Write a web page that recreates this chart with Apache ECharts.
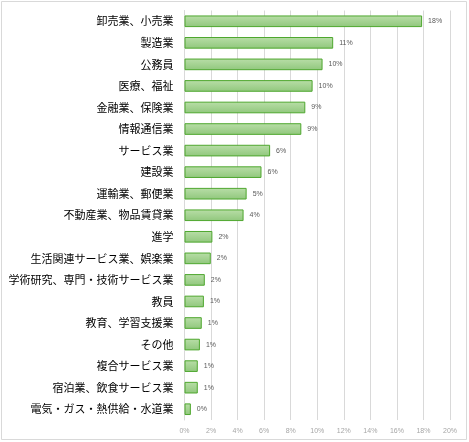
<!DOCTYPE html>
<html><head><meta charset="utf-8">
<script src="https://cdn.jsdelivr.net/npm/echarts@6/dist/echarts.min.js"></script>
<style>html,body{margin:0;padding:0;background:#fff}#c{width:469px;height:442px}</style>
</head><body><div id="c"></div>
<script>
const categories = ["卸売業、小売業","製造業","公務員","医療、福祉","金融業、保険業","情報通信業","サービス業","建設業","運輸業、郵便業","不動産業、物品賃貸業","進学","生活関連サービス業、娯楽業","学術研究、専門・技術サービス業","教員","教育、学習支援業","その他","複合サービス業","宿泊業、飲食サービス業","電気・ガス・熱供給・水道業"];
const values = [17.9,11.2,10.4,9.65,9.1,8.8,6.45,5.8,4.68,4.45,2.1,1.98,1.53,1.46,1.3,1.16,1.0,1.0,0.48];
const tickLabels = ["0%","2%","4%","6%","8%","10%","12%","14%","16%","18%","20%"];

const chart = echarts.init(document.getElementById('c'), null, {renderer:'canvas'});
chart.setOption({
  animation:false,
  backgroundColor:'#fff',
  graphic:[{type:'rect',shape:{x:1.5,y:1.5,width:465,height:438},style:{fill:'none',stroke:'#d9d9d9',lineWidth:1},silent:true}],
  grid:{left:184.5,right:19,top:10.5,bottom:22,containLabel:false},
  xAxis:{type:'value',min:0,max:20,interval:2,
    axisLine:{show:false},axisTick:{show:false},
    splitLine:{lineStyle:{color:'#d9d9d9',width:1}},
    axisLabel:{color:'#a6a6a6',fontSize:7,margin:8,fontFamily:'Liberation Sans, Arial',
      formatter:(v)=>tickLabels[Math.round(v/2)]}},
  yAxis:{type:'category',data:categories,inverse:true,
    axisLine:{show:true,lineStyle:{color:'#d9d9d9'}},axisTick:{show:false},
    axisLabel:{color:'#000',fontSize:11,margin:11,fontFamily:'Noto Sans CJK JP'}},
  series:[{type:'bar',data:values,barCategoryGap:'46%',
    itemStyle:{borderColor:'#4ea72e',borderWidth:1,
      color:new echarts.graphic.LinearGradient(0,0,0,1,[{offset:0,color:'#b9dea8'},{offset:1,color:'#90c77c'}])},
    label:{show:true,position:'right',distance:6,color:'#595959',fontSize:7,fontFamily:'Liberation Sans, Arial',
      formatter:(p)=>Math.round(p.value)+'%'}}]
});
</script></body></html>
